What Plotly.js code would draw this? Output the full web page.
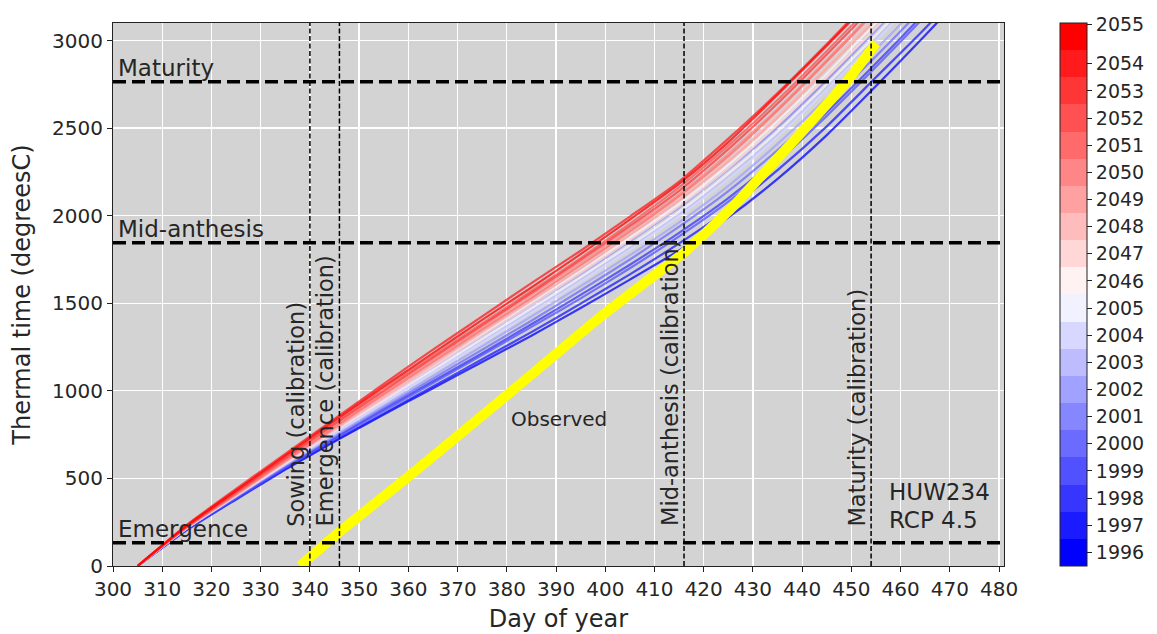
<!DOCTYPE html>
<html>
<head>
<meta charset="utf-8">
<script src="https://cdn.plot.ly/plotly-3.0.1.min.js"></script>
<style>
  html, body { margin: 0; padding: 0; background: #ffffff; }
  #chart { width: 1157px; height: 634px; }
</style>
</head>
<body>
<div id="chart"></div>
<script>
// ---- Data ----
const days = [305, 315, 325, 335, 345, 355, 365, 375, 385, 395, 405, 415, 425, 435, 445, 455, 465, 475];

const years = [1996, 1997, 1998, 1999, 2000, 2001, 2002, 2003, 2004, 2005,
               2046, 2047, 2048, 2049, 2050, 2051, 2052, 2053, 2054, 2055];

const tt1996 = [0, 205, 380, 550, 710, 865, 1015, 1165, 1315, 1473, 1635, 1802, 1990, 2210, 2460, 2740, 3030, 3330];
const tt1997 = [0, 210, 385, 555, 715, 870, 1025, 1180, 1335, 1498, 1665, 1842, 2035, 2260, 2510, 2790, 3070, 3370];
const tt1998 = [0, 215, 390, 565, 730, 895, 1055, 1215, 1380, 1548, 1720, 1902, 2100, 2330, 2590, 2870, 3160, 3460];
const tt1999 = [0, 210, 385, 560, 725, 885, 1045, 1205, 1365, 1528, 1700, 1882, 2080, 2310, 2570, 2850, 3140, 3440];
const tt2000 = [0, 215, 395, 570, 740, 905, 1070, 1235, 1400, 1573, 1750, 1937, 2140, 2375, 2635, 2910, 3200, 3500];
const tt2001 = [0, 220, 410, 595, 775, 955, 1135, 1315, 1490, 1668, 1855, 2047, 2265, 2505, 2775, 3060, 3350, 3650];
const tt2002 = [0, 215, 395, 575, 745, 915, 1085, 1255, 1425, 1598, 1775, 1962, 2170, 2410, 2670, 2950, 3240, 3540];
const tt2003 = [0, 220, 405, 585, 760, 935, 1110, 1285, 1460, 1638, 1820, 2007, 2220, 2460, 2730, 3010, 3300, 3600];
const tt2004 = [0, 215, 400, 580, 755, 930, 1105, 1275, 1445, 1623, 1805, 1997, 2210, 2450, 2720, 3000, 3290, 3590];
const tt2005 = [0, 220, 405, 590, 770, 945, 1120, 1295, 1470, 1648, 1830, 2022, 2240, 2480, 2750, 3030, 3320, 3620];
const tt2046 = [0, 220, 410, 595, 780, 965, 1145, 1325, 1505, 1688, 1875, 2068, 2290, 2540, 2810, 3100, 3390, 3690];
const tt2047 = [0, 215, 400, 585, 770, 950, 1135, 1315, 1490, 1673, 1860, 2053, 2270, 2520, 2790, 3070, 3360, 3660];
const tt2048 = [0, 225, 415, 605, 795, 980, 1170, 1355, 1535, 1718, 1905, 2098, 2320, 2570, 2850, 3140, 3430, 3730];
const tt2049 = [0, 220, 405, 595, 780, 965, 1150, 1335, 1515, 1698, 1890, 2088, 2310, 2560, 2840, 3120, 3410, 3710];
const tt2050 = [0, 225, 420, 610, 800, 990, 1180, 1365, 1550, 1733, 1925, 2122, 2355, 2610, 2890, 3180, 3470, 3770];
const tt2051 = [0, 220, 410, 600, 790, 980, 1165, 1350, 1530, 1718, 1910, 2112, 2340, 2600, 2880, 3170, 3460, 3760];
const tt2052 = [0, 230, 430, 625, 820, 1015, 1200, 1385, 1570, 1758, 1955, 2162, 2400, 2660, 2940, 3230, 3520, 3820];
const tt2053 = [0, 225, 420, 615, 810, 1000, 1190, 1375, 1560, 1748, 1940, 2142, 2380, 2640, 2920, 3210, 3500, 3800];
const tt2054 = [0, 235, 440, 640, 840, 1040, 1235, 1425, 1615, 1800, 1995, 2195, 2440, 2700, 2980, 3270, 3560, 3860];
const tt2055 = [0, 230, 430, 630, 830, 1025, 1215, 1405, 1590, 1780, 1978, 2182, 2420, 2690, 2970, 3260, 3550, 3850];

const simSeries = [tt1996, tt1997, tt1998, tt1999, tt2000, tt2001, tt2002, tt2003, tt2004, tt2005,
                   tt2046, tt2047, tt2048, tt2049, tt2050, tt2051, tt2052, tt2053, tt2054, tt2055];

const obsDay = [338, 340, 346, 360, 380, 400, 416, 425, 429, 440, 449, 455];
const obsTT  = [0, 50, 195, 510, 975, 1445, 1790, 2025, 2145, 2480, 2764, 2985];

const stageNames = ['Emergence', 'Mid-anthesis', 'Maturity'];
const stageTT = [133, 1845, 2764];

const calibNames = ['Sowing (calibration)', 'Emergence (calibration)', 'Mid-anthesis (calibration)', 'Maturity (calibration)'];
const calibDay = [340, 346, 416, 454];

const cultivar = 'HUW234';
const scenario = 'RCP 4.5';

// ---- Helpers ----
function bwr(t) {
  let r, g, b;
  if (t <= 0.5) { r = g = Math.round(255 * 2 * t); b = 255; }
  else { r = 255; g = b = Math.round(255 * 2 * (1 - t)); }
  return 'rgb(' + r + ',' + g + ',' + b + ')';
}
const n = years.length;
const yearColors = years.map((y, i) => bwr(i / (n - 1)));

const FONT = 'DejaVu Sans, Verdana, sans-serif';
const TXT = '#262626';

// ---- Traces ----
const traces = [];
simSeries.forEach((s, i) => {
  traces.push({
    type: 'scatter', mode: 'lines', x: days, y: s,
    name: String(years[i]),
    line: { color: yearColors[i], width: 2.2, shape: 'spline', smoothing: 0.6 },
    opacity: 0.75, showlegend: false, hoverinfo: 'x+y+name'
  });
});
traces.push({
  type: 'scatter', mode: 'lines', x: obsDay, y: obsTT, name: 'Observed',
  line: { color: '#ffff00', width: 10, shape: 'spline', smoothing: 0.4 },
  showlegend: false
});

// discrete colorscale for colorbar
const cscale = [];
yearColors.forEach((c, i) => {
  cscale.push([i / n, c]);
  cscale.push([(i + 1) / n, c]);
});
const cbTickPos = years.map((y, i) => i);
cbTickPos[19] = 19.45;

traces.push({
  type: 'scatter', mode: 'markers', x: [null], y: [null], showlegend: false, hoverinfo: 'skip',
  marker: {
    color: [0], cmin: -0.5, cmax: 19.5, colorscale: cscale, showscale: true,
    colorbar: {
      x: 1.0625, xanchor: 'left', xpad: 0, y: 0.5, yanchor: 'middle',
      len: 1, lenmode: 'fraction', ypad: 0,
      thickness: 27, thicknessmode: 'pixels',
      outlinewidth: 1, outlinecolor: '#222',
      tickmode: 'array', tickvals: cbTickPos, ticktext: years.map(String),
      ticks: 'outside', ticklen: 5, tickwidth: 1, tickcolor: '#222',
      tickfont: { family: FONT, size: 19, color: TXT }
    }
  }
});

// ---- Shapes and annotations ----
const shapes = [];
const annotations = [];

stageTT.forEach((v, i) => {
  shapes.push({ type: 'line', xref: 'paper', x0: 0, x1: 1, yref: 'y', y0: v, y1: v,
    line: { color: '#000', width: 3.5, dash: '13px,6px' } });
  annotations.push({ xref: 'x', yref: 'y', x: 300.9, y: v, xanchor: 'left', yanchor: 'bottom',
    text: stageNames[i], showarrow: false, borderpad: 0,
    font: { family: FONT, size: 23, color: TXT } });
});

calibDay.forEach((d, i) => {
  shapes.push({ type: 'line', xref: 'x', x0: d, x1: d, yref: 'paper', y0: 0, y1: 1,
    line: { color: '#000', width: 1.5, dash: '5px,2.5px' } });
  annotations.push({ xref: 'x', yref: 'y', x: d, y: 220, xanchor: 'center', yanchor: 'bottom',
    xshift: -14, textangle: -90,
    text: calibNames[i], showarrow: false, borderpad: 0,
    font: { family: FONT, size: 22.5, color: TXT } });
});

annotations.push({ xref: 'x', yref: 'y', x: 390.7, y: 841, xanchor: 'center', yanchor: 'middle',
  text: 'Observed', showarrow: false, font: { family: FONT, size: 20, color: TXT } });
annotations.push({ xref: 'x', yref: 'y', x: 457.4, y: 422, xanchor: 'left', yanchor: 'middle',
  text: cultivar, showarrow: false, borderpad: 0, font: { family: FONT, size: 23, color: TXT } });
annotations.push({ xref: 'x', yref: 'y', x: 457.4, y: 262, xanchor: 'left', yanchor: 'middle',
  text: scenario, showarrow: false, borderpad: 0, font: { family: FONT, size: 23, color: TXT } });

// ---- Layout ----
const layout = {
  width: 1157, height: 634,
  margin: { l: 113, r: 148, t: 23, b: 68 },
  paper_bgcolor: '#ffffff',
  plot_bgcolor: '#d3d3d3',
  font: { family: FONT, color: TXT },
  xaxis: {
    range: [300, 481], tickmode: 'linear', tick0: 300, dtick: 10,
    ticks: 'outside', ticklen: 5, tickwidth: 1, tickcolor: '#222',
    showline: true, linecolor: '#222', linewidth: 1, mirror: true,
    showgrid: true, gridcolor: '#ffffff', gridwidth: 1.3, zeroline: false,
    tickfont: { family: FONT, size: 20, color: TXT },
    title: { text: 'Day of year', font: { family: FONT, size: 24, color: TXT }, standoff: 10 }
  },
  yaxis: {
    range: [0, 3100], tickmode: 'linear', tick0: 0, dtick: 500,
    ticks: 'outside', ticklen: 5, tickwidth: 1, tickcolor: '#222',
    showline: true, linecolor: '#222', linewidth: 1, mirror: true,
    showgrid: true, gridcolor: '#ffffff', gridwidth: 1.3, zeroline: false,
    tickfont: { family: FONT, size: 20, color: TXT },
    title: { text: 'Thermal time (degreesC)', font: { family: FONT, size: 24, color: TXT }, standoff: 14 }
  },
  shapes: shapes,
  annotations: annotations,
  showlegend: false
};

Plotly.newPlot('chart', traces, layout, { displayModeBar: false, staticPlot: true });
</script>
</body>
</html>
